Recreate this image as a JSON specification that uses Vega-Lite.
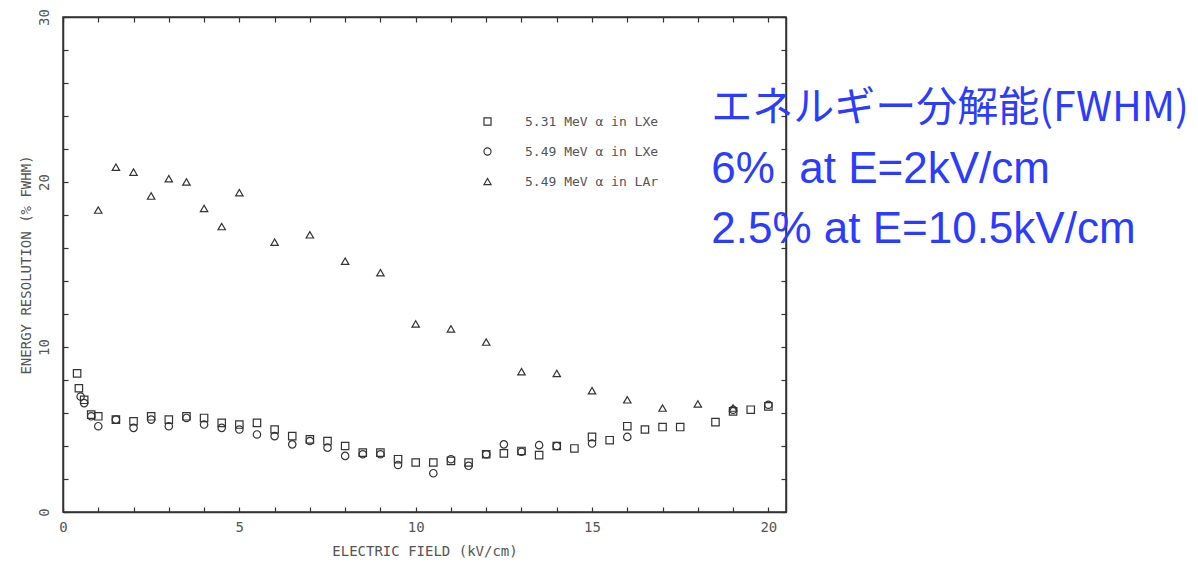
{
  "$schema": "https://vega.github.io/schema/vega-lite/v6.json",
  "width": 723,
  "height": 495,
  "autosize": "none",
  "padding": {"left": 63, "top": 17, "right": 412, "bottom": 55},
  "background": "white",
  "config": {
    "view": {"stroke": "#333", "strokeWidth": 1.5},
    "axis": {
      "domainColor": "#333", "domainWidth": 1.5, "tickColor": "#333", "tickWidth": 1.2, "tickSize": -5,
      "grid": false, "labelFont": "DejaVu Sans Mono", "labelFontSize": 14, "labelColor": "#555",
      "titleFont": "DejaVu Sans Mono", "titleFontSize": 14, "titleColor": "#555", "titleFontWeight": "normal"
    }
  },
  "datasets": {
    "pts": [
      {"E": 0.4, "R": 8.4, "s": "5.31 MeV α in LXe"},
      {"E": 0.45, "R": 7.5, "s": "5.31 MeV α in LXe"},
      {"E": 0.6, "R": 6.8, "s": "5.31 MeV α in LXe"},
      {"E": 0.8, "R": 5.9, "s": "5.31 MeV α in LXe"},
      {"E": 1.0, "R": 5.8, "s": "5.31 MeV α in LXe"},
      {"E": 1.5, "R": 5.6, "s": "5.31 MeV α in LXe"},
      {"E": 2.0, "R": 5.5, "s": "5.31 MeV α in LXe"},
      {"E": 2.5, "R": 5.8, "s": "5.31 MeV α in LXe"},
      {"E": 3.0, "R": 5.6, "s": "5.31 MeV α in LXe"},
      {"E": 3.5, "R": 5.8, "s": "5.31 MeV α in LXe"},
      {"E": 4.0, "R": 5.7, "s": "5.31 MeV α in LXe"},
      {"E": 4.5, "R": 5.4, "s": "5.31 MeV α in LXe"},
      {"E": 5.0, "R": 5.3, "s": "5.31 MeV α in LXe"},
      {"E": 5.5, "R": 5.4, "s": "5.31 MeV α in LXe"},
      {"E": 6.0, "R": 5.0, "s": "5.31 MeV α in LXe"},
      {"E": 6.5, "R": 4.6, "s": "5.31 MeV α in LXe"},
      {"E": 7.0, "R": 4.4, "s": "5.31 MeV α in LXe"},
      {"E": 7.5, "R": 4.3, "s": "5.31 MeV α in LXe"},
      {"E": 8.0, "R": 4.0, "s": "5.31 MeV α in LXe"},
      {"E": 8.5, "R": 3.6, "s": "5.31 MeV α in LXe"},
      {"E": 9.0, "R": 3.6, "s": "5.31 MeV α in LXe"},
      {"E": 9.5, "R": 3.2, "s": "5.31 MeV α in LXe"},
      {"E": 10.0, "R": 3.0, "s": "5.31 MeV α in LXe"},
      {"E": 10.5, "R": 3.0, "s": "5.31 MeV α in LXe"},
      {"E": 11.0, "R": 3.1, "s": "5.31 MeV α in LXe"},
      {"E": 11.5, "R": 3.0, "s": "5.31 MeV α in LXe"},
      {"E": 12.0, "R": 3.5, "s": "5.31 MeV α in LXe"},
      {"E": 12.5, "R": 3.55, "s": "5.31 MeV α in LXe"},
      {"E": 13.0, "R": 3.7, "s": "5.31 MeV α in LXe"},
      {"E": 13.5, "R": 3.45, "s": "5.31 MeV α in LXe"},
      {"E": 14.0, "R": 4.0, "s": "5.31 MeV α in LXe"},
      {"E": 14.5, "R": 3.85, "s": "5.31 MeV α in LXe"},
      {"E": 15.0, "R": 4.55, "s": "5.31 MeV α in LXe"},
      {"E": 15.5, "R": 4.35, "s": "5.31 MeV α in LXe"},
      {"E": 16.0, "R": 5.2, "s": "5.31 MeV α in LXe"},
      {"E": 16.5, "R": 5.0, "s": "5.31 MeV α in LXe"},
      {"E": 17.0, "R": 5.15, "s": "5.31 MeV α in LXe"},
      {"E": 17.5, "R": 5.15, "s": "5.31 MeV α in LXe"},
      {"E": 18.5, "R": 5.45, "s": "5.31 MeV α in LXe"},
      {"E": 19.0, "R": 6.1, "s": "5.31 MeV α in LXe"},
      {"E": 19.5, "R": 6.2, "s": "5.31 MeV α in LXe"},
      {"E": 20.0, "R": 6.4, "s": "5.31 MeV α in LXe"},
      {"E": 0.5, "R": 7.0, "s": "5.49 MeV α in LXe"},
      {"E": 0.6, "R": 6.6, "s": "5.49 MeV α in LXe"},
      {"E": 0.8, "R": 5.8, "s": "5.49 MeV α in LXe"},
      {"E": 1.0, "R": 5.2, "s": "5.49 MeV α in LXe"},
      {"E": 1.5, "R": 5.6, "s": "5.49 MeV α in LXe"},
      {"E": 2.0, "R": 5.1, "s": "5.49 MeV α in LXe"},
      {"E": 2.5, "R": 5.6, "s": "5.49 MeV α in LXe"},
      {"E": 3.0, "R": 5.2, "s": "5.49 MeV α in LXe"},
      {"E": 3.5, "R": 5.7, "s": "5.49 MeV α in LXe"},
      {"E": 4.0, "R": 5.3, "s": "5.49 MeV α in LXe"},
      {"E": 4.5, "R": 5.1, "s": "5.49 MeV α in LXe"},
      {"E": 5.0, "R": 5.0, "s": "5.49 MeV α in LXe"},
      {"E": 5.5, "R": 4.7, "s": "5.49 MeV α in LXe"},
      {"E": 6.0, "R": 4.6, "s": "5.49 MeV α in LXe"},
      {"E": 6.5, "R": 4.1, "s": "5.49 MeV α in LXe"},
      {"E": 7.0, "R": 4.3, "s": "5.49 MeV α in LXe"},
      {"E": 7.5, "R": 3.9, "s": "5.49 MeV α in LXe"},
      {"E": 8.0, "R": 3.4, "s": "5.49 MeV α in LXe"},
      {"E": 8.5, "R": 3.5, "s": "5.49 MeV α in LXe"},
      {"E": 9.0, "R": 3.5, "s": "5.49 MeV α in LXe"},
      {"E": 9.5, "R": 2.85, "s": "5.49 MeV α in LXe"},
      {"E": 10.5, "R": 2.35, "s": "5.49 MeV α in LXe"},
      {"E": 11.0, "R": 3.2, "s": "5.49 MeV α in LXe"},
      {"E": 11.5, "R": 2.8, "s": "5.49 MeV α in LXe"},
      {"E": 12.0, "R": 3.5, "s": "5.49 MeV α in LXe"},
      {"E": 12.5, "R": 4.1, "s": "5.49 MeV α in LXe"},
      {"E": 13.0, "R": 3.65, "s": "5.49 MeV α in LXe"},
      {"E": 13.5, "R": 4.05, "s": "5.49 MeV α in LXe"},
      {"E": 14.0, "R": 4.0, "s": "5.49 MeV α in LXe"},
      {"E": 15.0, "R": 4.15, "s": "5.49 MeV α in LXe"},
      {"E": 16.0, "R": 4.55, "s": "5.49 MeV α in LXe"},
      {"E": 19.0, "R": 6.2, "s": "5.49 MeV α in LXe"},
      {"E": 20.0, "R": 6.5, "s": "5.49 MeV α in LXe"},
      {"E": 1.0, "R": 18.3, "s": "5.49 MeV α in LAr"},
      {"E": 1.5, "R": 20.9, "s": "5.49 MeV α in LAr"},
      {"E": 2.0, "R": 20.6, "s": "5.49 MeV α in LAr"},
      {"E": 2.5, "R": 19.15, "s": "5.49 MeV α in LAr"},
      {"E": 3.0, "R": 20.2, "s": "5.49 MeV α in LAr"},
      {"E": 3.5, "R": 20.0, "s": "5.49 MeV α in LAr"},
      {"E": 4.0, "R": 18.4, "s": "5.49 MeV α in LAr"},
      {"E": 4.5, "R": 17.3, "s": "5.49 MeV α in LAr"},
      {"E": 5.0, "R": 19.35, "s": "5.49 MeV α in LAr"},
      {"E": 6.0, "R": 16.35, "s": "5.49 MeV α in LAr"},
      {"E": 7.0, "R": 16.8, "s": "5.49 MeV α in LAr"},
      {"E": 8.0, "R": 15.2, "s": "5.49 MeV α in LAr"},
      {"E": 9.0, "R": 14.5, "s": "5.49 MeV α in LAr"},
      {"E": 10.0, "R": 11.4, "s": "5.49 MeV α in LAr"},
      {"E": 11.0, "R": 11.1, "s": "5.49 MeV α in LAr"},
      {"E": 12.0, "R": 10.3, "s": "5.49 MeV α in LAr"},
      {"E": 13.0, "R": 8.5, "s": "5.49 MeV α in LAr"},
      {"E": 14.0, "R": 8.4, "s": "5.49 MeV α in LAr"},
      {"E": 15.0, "R": 7.35, "s": "5.49 MeV α in LAr"},
      {"E": 16.0, "R": 6.8, "s": "5.49 MeV α in LAr"},
      {"E": 17.0, "R": 6.3, "s": "5.49 MeV α in LAr"},
      {"E": 18.0, "R": 6.55, "s": "5.49 MeV α in LAr"},
      {"E": 19.0, "R": 6.3, "s": "5.49 MeV α in LAr"}
    ],
    "one": [{}]
  },
  "layer": [
    {
      "data": {"name": "pts"},
      "mark": {"type": "point", "filled": false, "strokeWidth": 1.2, "size": 55, "color": "#333", "opacity": 1},
      "encoding": {
        "x": {"field": "E", "type": "quantitative",
          "scale": {"domain": [0, 20.5], "nice": false, "zero": false},
          "axis": {"orient": "bottom", "title": "ELECTRIC FIELD (kV/cm)", "values": [0,1,2,3,4,5,6,7,8,9,10,11,12,13,14,15,16,17,18,19,20],
            "labelExpr": "datum.value % 5 == 0 ? datum.label : ''", "labelPadding": 13, "titlePadding": 10, "labelFlush": false}},
        "y": {"field": "R", "type": "quantitative",
          "scale": {"domain": [0, 30], "nice": false, "zero": false},
          "axis": {"orient": "left", "title": "ENERGY RESOLUTION (% FWHM)", "values": [0,2,4,6,8,10,12,14,16,18,20,22,24,26,28,30],
            "labelExpr": "datum.value % 10 == 0 ? datum.label : ''", "labelAngle": -90, "labelPadding": 17, "titlePadding": 4, "labelFlush": false}},
        "shape": {"field": "s", "type": "nominal",
          "scale": {"domain": ["5.31 MeV α in LXe", "5.49 MeV α in LXe", "5.49 MeV α in LAr"], "range": ["square", "circle", "triangle-up"]},
          "legend": {"orient": "none", "legendX": 418, "legendY": 98, "title": null, "padding": 0,
            "labelFont": "DejaVu Sans Mono", "labelFontSize": 13, "labelColor": "#555", "labelOffset": 31,
            "symbolSize": 50, "symbolStrokeColor": "#333", "symbolFillColor": "transparent", "symbolStrokeWidth": 1.2,
            "rowPadding": 16}}
      }
    },
    {
      "data": {"name": "one"},
      "mark": {"type": "text", "align": "left", "baseline": "middle", "font": "Noto Sans CJK JP", "fontSize": 41, "color": "#2b3cff"},
      "encoding": {
        "x": {"datum": 18.38, "type": "quantitative", "axis": {"orient": "top", "labels": false, "title": null, "values": [0,1,2,3,4,5,6,7,8,9,10,11,12,13,14,15,16,17,18,19,20]}},
        "y": {"datum": 24.4, "type": "quantitative", "axis": {"orient": "right", "labels": false, "title": null, "values": [0,2,4,6,8,10,12,14,16,18,20,22,24,26,28,30]}},
        "text": {"value": "エネルギー分解能(FWHM)"}
      }
    },
    {
      "data": {"name": "one"},
      "mark": {"type": "text", "align": "left", "baseline": "middle", "font": "Liberation Sans", "fontSize": 44, "color": "#2b3cff"},
      "encoding": {
        "x": {"datum": 18.38, "type": "quantitative", "axis": null},
        "y": {"datum": 20.73, "type": "quantitative", "axis": null},
        "text": {"value": "6%\u00a0 at E=2kV/cm"}
      }
    },
    {
      "data": {"name": "one"},
      "mark": {"type": "text", "align": "left", "baseline": "middle", "font": "Liberation Sans", "fontSize": 44, "color": "#2b3cff"},
      "encoding": {
        "x": {"datum": 18.38, "type": "quantitative", "axis": null},
        "y": {"datum": 17.09, "type": "quantitative", "axis": null},
        "text": {"value": "2.5% at E=10.5kV/cm"}
      }
    }
  ],
  "resolve": {"axis": {"x": "independent", "y": "independent"}}
}
